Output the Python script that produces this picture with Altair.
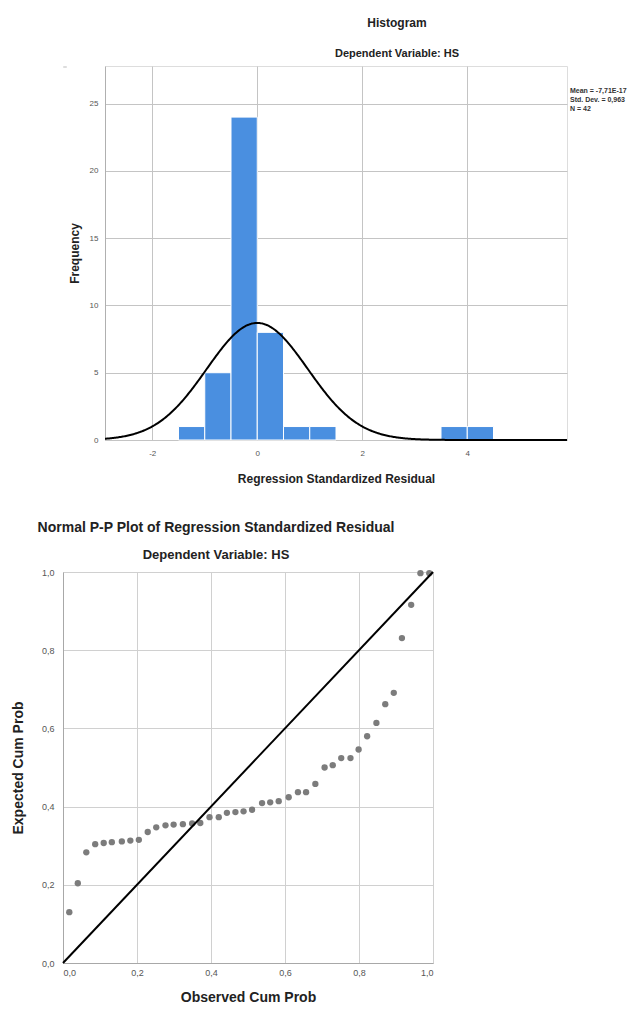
import altair as alt
import pandas as pd

FONT = "Liberation Sans"

# ---------------- Histogram data ----------------
BIN_START = [-1.5, -1.0, -0.5, 0.0, 0.5, 1.0, 3.5, 4.0]
BIN_END = [-1.0, -0.5, 0.0, 0.5, 1.0, 1.5, 4.0, 4.5]
FREQ = [1, 5, 24, 8, 1, 1, 1, 1]
HIST_X_TICKS = [-2, 0, 2, 4]
HIST_Y_TICKS = [0, 5, 10, 15, 20, 25]
STATS_LINES = ["Mean = -7,71E-17", "Std. Dev. = 0,963", "N = 42"]
FIT_MEAN = 0.0
FIT_SD = 0.963
FIT_N = 42
BIN_WIDTH = 0.5

# ---------------- P-P plot data ----------------
OBS_CUM = [0.017, 0.040, 0.063, 0.087, 0.110, 0.132, 0.159, 0.182, 0.205, 0.229,
           0.252, 0.277, 0.299, 0.324, 0.349, 0.371, 0.396, 0.421, 0.443, 0.466,
           0.488, 0.511, 0.538, 0.560, 0.583, 0.610, 0.635, 0.657, 0.682, 0.707,
           0.729, 0.752, 0.777, 0.799, 0.822, 0.847, 0.871, 0.894, 0.916, 0.941,
           0.966, 0.990]
EXP_CUM = [0.130, 0.204, 0.283, 0.304, 0.307, 0.309, 0.311, 0.313, 0.315, 0.335,
           0.347, 0.352, 0.354, 0.355, 0.357, 0.358, 0.373, 0.373, 0.384, 0.386,
           0.388, 0.392, 0.409, 0.411, 0.414, 0.424, 0.437, 0.437, 0.458, 0.500,
           0.506, 0.524, 0.524, 0.546, 0.580, 0.614, 0.662, 0.691, 0.831, 0.916,
           0.997, 0.997]
PP_TICKS = [0.0, 0.2, 0.4, 0.6, 0.8, 1.0]
DIAG = [0.0, 1.0]

comma_expr = "replace(format(datum.value, '.1f'), '.', ',')"
int_expr = "replace(format(datum.value, 'd'), '\u2212', '-')"

# ---------------- Histogram ----------------
H_W, H_H = 462, 374
hx = alt.Scale(domain=[-2.9, 5.9], nice=False, zero=False)
hy = alt.Scale(domain=[0, 27.8], nice=False)

hist_df = pd.DataFrame({"start": BIN_START, "end": BIN_END, "freq": FREQ})

bars = alt.Chart(hist_df).mark_bar(color="#4a8fe0", stroke="white", strokeWidth=1).encode(
    x=alt.X("start:Q", scale=hx, axis=alt.Axis(
        values=HIST_X_TICKS, labelExpr=int_expr, title="Regression Standardized Residual",
        ticks=False, labelPadding=9, labelFontSize=8, labelColor="#555", titleFontSize=12,
        titleFontWeight="bold", titlePadding=16, titleColor="#222",
        gridColor="#c4c4c4", domain=False, labelFont=FONT, titleFont=FONT)),
    x2="end:Q",
    y=alt.Y("freq:Q", scale=hy, axis=alt.Axis(
        values=HIST_Y_TICKS, title="Frequency", ticks=False, labelPadding=7,
        labelFontSize=8, labelColor="#555", titleFontSize=12, titleFontWeight="bold",
        titlePadding=8, titleColor="#222", gridColor="#c4c4c4", domainColor="#b0b0b0",
        labelFont=FONT, titleFont=FONT)),
    y2=alt.datum(0),
)

curve = alt.Chart(alt.sequence(-2.9, 5.905, 0.02, as_="x")).transform_calculate(
    y=f"{FIT_N * BIN_WIDTH}/({FIT_SD}*sqrt(2*PI))*exp(-0.5*pow((datum.x-{FIT_MEAN})/{FIT_SD},2))"
).mark_line(color="black", strokeWidth=2).encode(
    x=alt.X("x:Q", scale=hx),
    y=alt.Y("y:Q", scale=hy),
)

stats_df = pd.DataFrame({"txt": ["\n".join(STATS_LINES)]})
stats = alt.Chart(stats_df).mark_text(
    align="left", baseline="top", fontSize=7, lineBreak="\n", lineHeight=9,
    font=FONT, fontWeight="bold", color="#333"
).encode(x=alt.value(465), y=alt.value(21), text="txt:N")

hist = alt.layer(bars, curve, stats).properties(
    width=H_W, height=H_H,
    title=alt.Title("Histogram", subtitle="Dependent Variable: HS", anchor="middle",
                    frame="group", dx=61, fontSize=12, subtitleFontSize=11,
                    fontWeight="bold", subtitleFontWeight="bold", subtitlePadding=18,
                    offset=6, font=FONT, subtitleFont=FONT, color="#222",
                    subtitleColor="#222"),
)

spacer = alt.Chart(pd.DataFrame({"s": [""]})).mark_text(opacity=0, fontSize=1).encode(
    x=alt.value(0), y=alt.value(0), text="s:N"
).properties(width=3, height=1)

top_row = alt.hconcat(spacer, hist, spacing=0)

# ---------------- P-P plot ----------------
P_W, P_H = 370, 391
ps = alt.Scale(domain=[0, 1], nice=False)
pp_df = pd.DataFrame({"obs": OBS_CUM, "exp": EXP_CUM})

pts = alt.Chart(pp_df).mark_circle(size=40, color="#7c7c7c", opacity=1).encode(
    x=alt.X("obs:Q", scale=ps, axis=alt.Axis(
        values=PP_TICKS, labelExpr=comma_expr, title="Observed Cum Prob", ticks=False,
        labelPadding=5, labelFontSize=9, labelColor="#555", titleFontSize=14,
        titleFontWeight="bold", titlePadding=13, titleColor="#222", gridColor="#d0d0d0",
        domainColor="#a8a8a8", labelFont=FONT, titleFont=FONT)),
    y=alt.Y("exp:Q", scale=ps, axis=alt.Axis(
        values=PP_TICKS, labelExpr=comma_expr, title="Expected Cum Prob", ticks=False,
        labelPadding=9, labelFontSize=9, labelColor="#555", titleFontSize=14,
        titleFontWeight="bold", titlePadding=16, titleColor="#222", gridColor="#d0d0d0",
        domainColor="#a8a8a8", labelFont=FONT, titleFont=FONT)),
)

diag = alt.Chart(pd.DataFrame({"d": DIAG})).mark_line(color="black", strokeWidth=2).encode(
    x=alt.X("d:Q", scale=ps),
    y=alt.Y("d:Q", scale=ps),
)

pp = alt.layer(pts, diag).properties(
    width=P_W, height=P_H,
    title=alt.Title("Normal P-P Plot of Regression Standardized Residual",
                    subtitle="Dependent Variable: HS", anchor="middle", frame="group",
                    dx=-32, fontSize=14, subtitleFontSize=13, fontWeight="bold",
                    subtitleFontWeight="bold", subtitlePadding=14, offset=6, font=FONT,
                    subtitleFont=FONT, color="#222", subtitleColor="#222"),
)

chart = alt.vconcat(top_row, pp, spacing=35).properties(
    padding={"left": 2, "top": 8, "right": 0, "bottom": 0}
).configure_view(stroke="transparent", strokeWidth=0).configure(background="white")

chart.save("out.html", embed_options={"renderer": "svg", "actions": False})
